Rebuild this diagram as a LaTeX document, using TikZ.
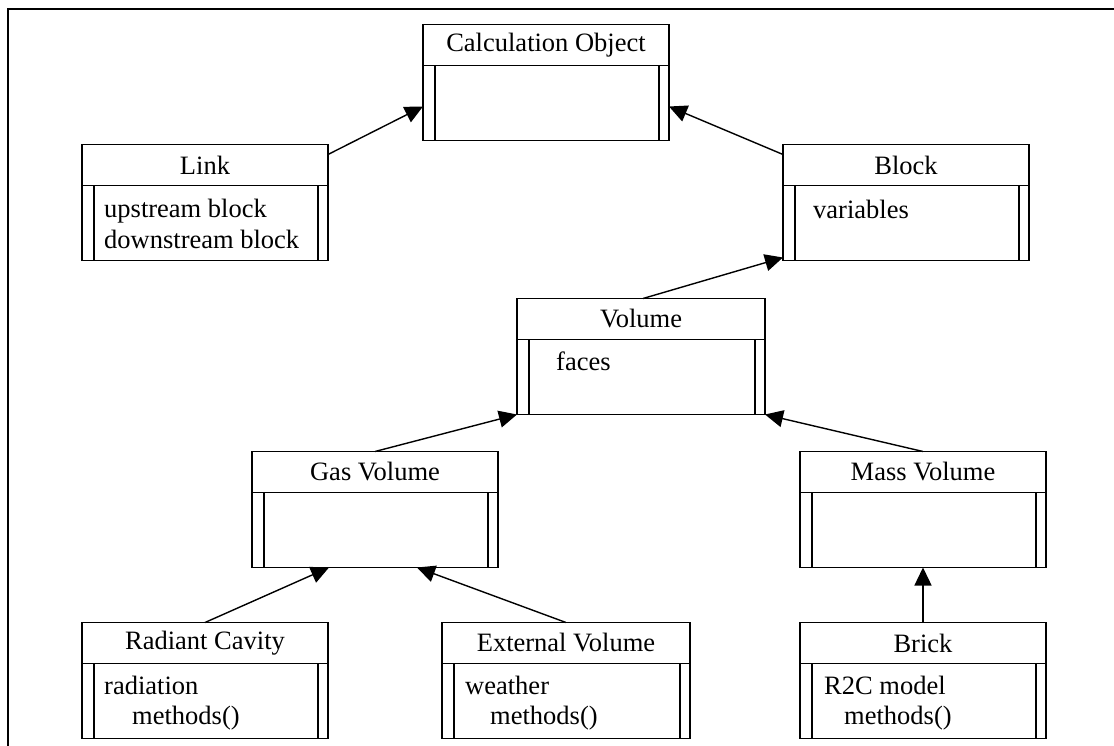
\documentclass[tikz,border=0pt]{standalone}
\usepackage{fontspec}
\setmainfont{Liberation Serif}
\usetikzlibrary{arrows.meta,positioning}

\begin{document}
\begin{tikzpicture}
        [x=1pt, y=-1pt,
        head/.style={draw, line width=1.6pt, minimum width=246pt, minimum height=41pt, inner sep=0pt, outer sep=0pt, font=\fontsize{26.5}{31}\selectfont},
        body/.style={draw, line width=1.6pt, minimum width=246pt, minimum height=75pt, inner sep=0pt, outer sep=0pt,
            path picture={
                \draw[line width=1.2pt] ([xshift=12pt]path picture bounding box.north west) -- ([xshift=12pt]path picture bounding box.south west);
                \draw[line width=1.2pt] ([xshift=-10pt]path picture bounding box.north east) -- ([xshift=-10pt]path picture bounding box.south east);}},
        attr/.style={anchor=base west, inner sep=0pt, font=\fontsize{26.5}{31}\selectfont},
        arr/.style={line width=1.4pt, -{Triangle[length=18pt,width=17pt]}}]
        \useasboundingbox (0,0) rectangle (1114,746);
        \draw[line width=1.8pt] (8,746) -- (8,9) -- (1114,9);

        % classes
        \node[head] (calcH) at (546,45) {Calculation Object};
        \node[body, below=0pt of calcH] (calc) {};
        \node[head] (linkH) at (205,165) {Link};
        \node[body, below=0pt of linkH] (link) {};
        \node[head] (blockH) at (906,165) {Block};
        \node[body, below=0pt of blockH] (block) {};
        \node[head, minimum width=248pt] (volH) at (641,319) {Volume};
        \node[body, minimum width=248pt, below=0pt of volH] (vol) {};
        \node[head] (gasH) at (375,472) {Gas Volume};
        \node[body, below=0pt of gasH] (gas) {};
        \node[head] (massH) at (923,472) {Mass Volume};
        \node[body, below=0pt of massH] (mass) {};
        \node[head] (radH) at (205,643) {Radiant Cavity};
        \node[body, below=0pt of radH] (rad) {};
        \node[head, minimum width=248pt] (extH) at (566,643) {External Volume};
        \node[body, minimum width=248pt, below=0pt of extH] (ext) {};
        \node[head] (brickH) at (923,643) {Brick};
        \node[body, below=0pt of brickH] (brick) {};

        % attributes
        \node[attr] (linkA) at ([xshift=22pt,yshift=-32pt]link.north west) {upstream block};
        \node[attr] (linkB) at ([xshift=22pt,yshift=-63pt]link.north west) {downstream block};
        \node[attr] (blockA) at ([xshift=30pt,yshift=-33pt]block.north west) {variables};
        \node[attr] (volA) at ([xshift=39pt,yshift=-31pt]vol.north west) {faces};
        \node[attr] (radA) at ([xshift=22pt,yshift=-31pt]rad.north west) {radiation};
        \node[attr] (radB) at ([xshift=50pt,yshift=-61pt]rad.north west) {methods()};
        \node[attr] (extA) at ([xshift=23pt,yshift=-31pt]ext.north west) {weather};
        \node[attr] (extB) at ([xshift=48pt,yshift=-61pt]ext.north west) {methods()};
        \node[attr] (brickA) at ([xshift=24pt,yshift=-31pt]brick.north west) {R2C model};
        \node[attr] (brickB) at ([xshift=44pt,yshift=-61pt]brick.north west) {methods()};

        \draw[arr] ([yshift=-10pt]linkH.north east) -- ([yshift=-41pt]calc.north west);
        \draw[arr] ([yshift=-10pt]blockH.north west) -- ([yshift=-41pt]calc.north east);
        \draw[arr] ([xshift=2pt]volH.north) -- ([yshift=3pt]block.south west);
        \draw[arr] (gasH.north) -- (vol.south west);
        \draw[arr] (massH.north) -- (vol.south east);
        \draw[arr] (radH.north) -- ([xshift=-46pt]gas.south);
        \draw[arr] (extH.north) -- ([xshift=42pt]gas.south);
        \draw[arr] (brickH.north) -- (mass.south);

    \end{tikzpicture}
\end{document}
